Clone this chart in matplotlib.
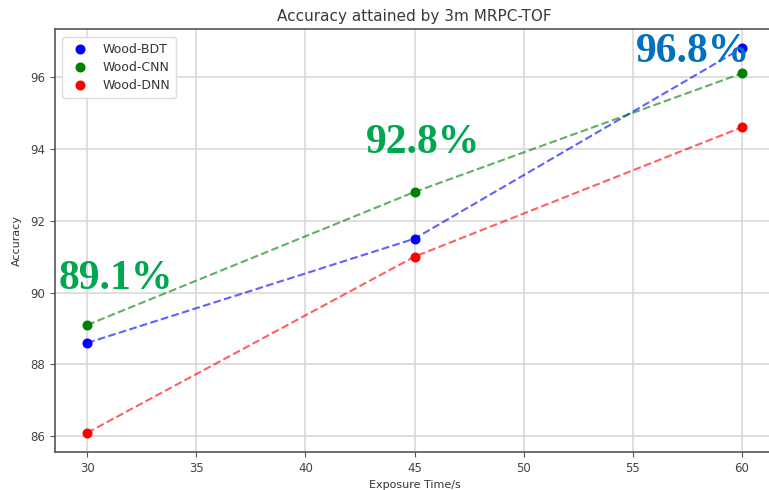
import matplotlib
matplotlib.use("Agg")
import matplotlib.pyplot as plt

# exposure times (s) and accuracy per model
exposure = [30, 45, 60]
acc_bdt = [88.6, 91.5, 96.8]
acc_cnn = [89.1, 92.8, 96.1]
acc_dnn = [86.1, 91.0, 94.6]

series_names = ["Wood-BDT", "Wood-CNN", "Wood-DNN"]
series_colors = ["blue", "green", "red"]

# highlighted accuracies written over the plot
callouts = [(acc_cnn[0], exposure[0]), (acc_cnn[1], exposure[1]), (acc_bdt[2], exposure[2])]
callout_colors = ["#00a650", "#00a650", "#0070c0"]

fig = plt.figure(figsize=(7.69, 4.90), dpi=100)
ax = fig.add_axes([54.5 / 769, 1 - 452 / 490, 720 / 769, 423 / 490])

for vals, name, col in zip([acc_bdt, acc_cnn, acc_dnn], series_names, series_colors):
    ax.plot(exposure, vals, "--", color=col, alpha=0.62, lw=1.5)
    ax.plot(exposure, vals, "o", color=col, ms=6.2, ls="none", label=name)

ax.set_xlim(28.5, 61.5)
ax.set_ylim(85.565, 97.335)
ax.set_xticks([30, 35, 40, 45, 50, 55, 60])
ax.set_yticks([86, 88, 90, 92, 94, 96])
ax.grid(True, color="#d9d9d9", lw=1.2)
ax.set_axisbelow(True)

for side in ["left", "bottom", "top"]:
    ax.spines[side].set_color("#555555")
    ax.spines[side].set_linewidth(1.2)
ax.spines["right"].set_visible(False)
ax.tick_params(colors="#555555", labelcolor="#444444", labelsize=8.5)

ax.set_title("Accuracy attained by 3m MRPC-TOF", fontsize=11, color="#3a3a3a", pad=6)
ax.set_xlabel("Exposure Time/s", fontsize=8, color="#333333", labelpad=4)
ax.set_ylabel("Accuracy", fontsize=8, color="#333333", labelpad=6)

leg = ax.legend(loc="upper left", fontsize=9, handletextpad=0.8, borderpad=0.45,
                labelspacing=0.4, framealpha=1.0, edgecolor="#dddddd",
                bbox_to_anchor=(0.002, 0.995))
for txt in leg.get_texts():
    txt.set_color("#333333")

# big percentage labels, offset from their points
offsets = [(-1.31, 1.01), (-2.25, 1.09), (-4.84, -0.38)]
for (val, x), (dx, dy), col in zip(callouts, offsets, callout_colors):
    ax.text(x + dx, val + dy, "%.1f%%" % val, color=col, fontsize=30,
            fontweight="bold", family="Liberation Serif", ha="left", va="baseline")

fig.savefig("out.png", dpi=100)
